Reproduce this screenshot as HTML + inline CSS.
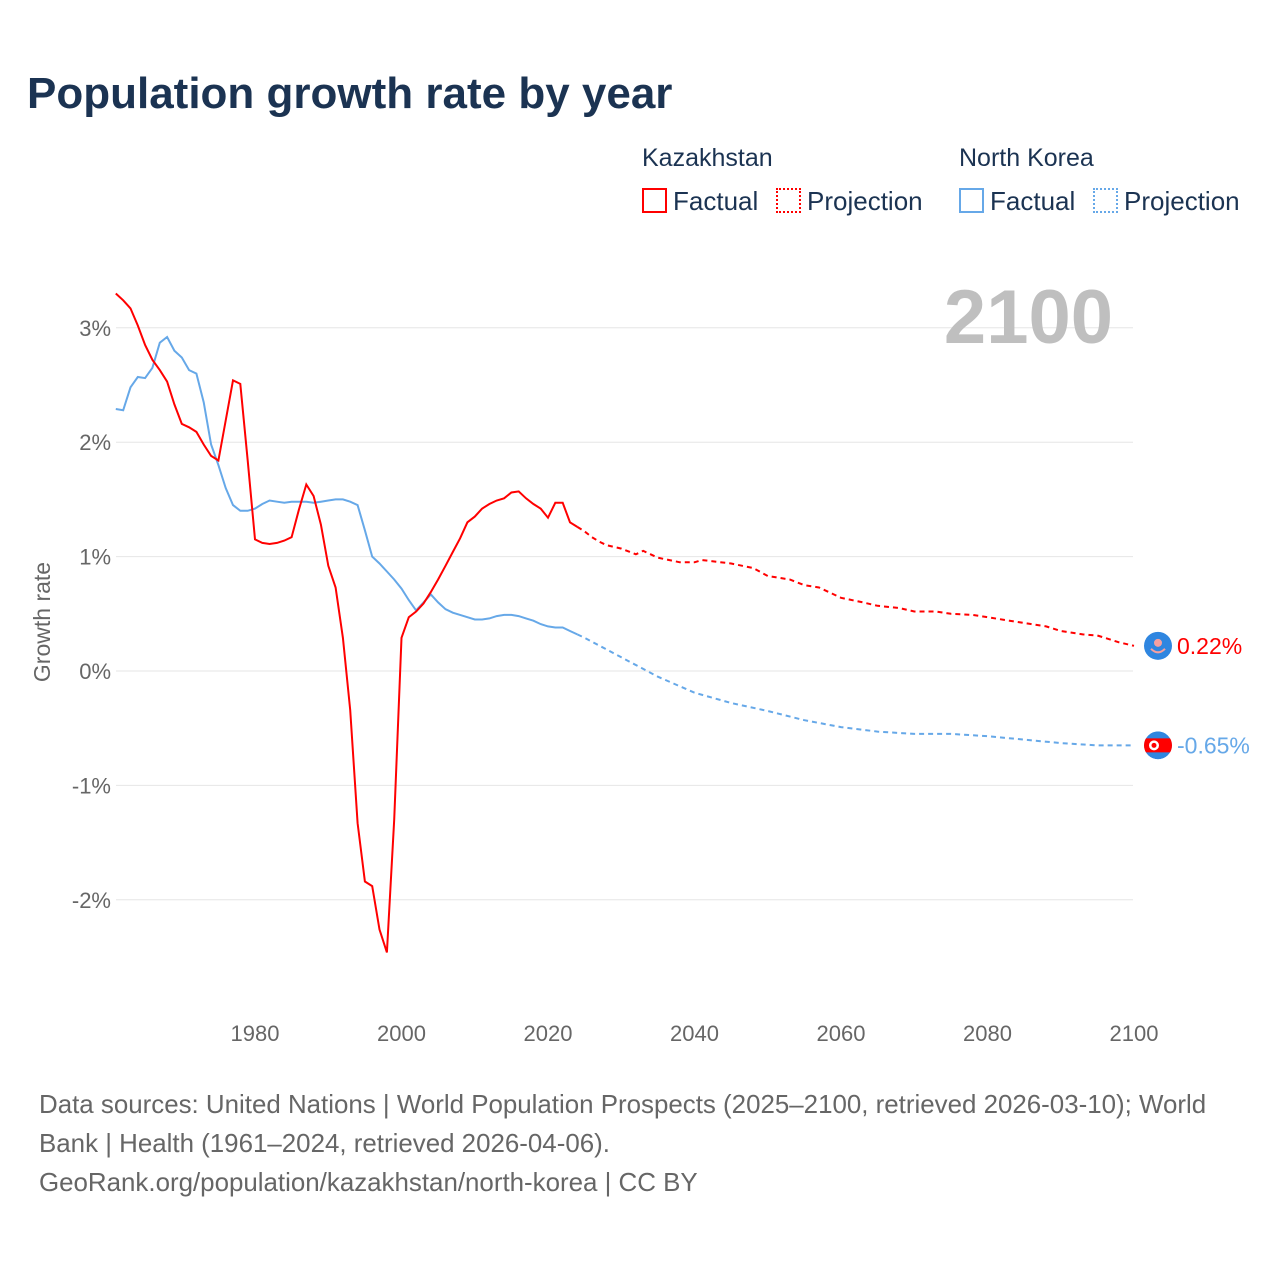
<!DOCTYPE html>
<html><head><meta charset="utf-8">
<style>
body{margin:0;background:#fff;font-family:"Liberation Sans",sans-serif;}
#wrap{position:relative;width:1280px;height:1280px;overflow:hidden;}
.t{position:absolute;white-space:nowrap;}
</style></head>
<body>
<div id="wrap">
<div class="t" style="left:27px;top:69px;font-size:44px;font-weight:bold;color:#1b3352;">Population growth rate by year</div>
<div class="t" style="left:642px;top:144px;font-size:25px;color:#1b3352;">Kazakhstan</div>
<div class="t" style="left:959px;top:144px;font-size:25px;color:#1b3352;">North Korea</div>
<div style="position:absolute;left:642px;top:188px;">
 <div style="position:absolute;left:0;top:0;width:21px;height:21px;border:2px solid #f00;"></div>
 <div class="t" style="left:31px;top:-2px;font-size:26px;color:#1b3352;">Factual</div></div>
<div style="position:absolute;left:776px;top:188px;">
 <div style="position:absolute;left:0;top:0;width:21px;height:21px;border:2px dotted #f00;"></div>
 <div class="t" style="left:31px;top:-2px;font-size:26px;color:#1b3352;">Projection</div></div>
<div style="position:absolute;left:959px;top:188px;">
 <div style="position:absolute;left:0;top:0;width:21px;height:21px;border:2px solid #66a8e8;"></div>
 <div class="t" style="left:31px;top:-2px;font-size:26px;color:#1b3352;">Factual</div></div>
<div style="position:absolute;left:1093px;top:188px;">
 <div style="position:absolute;left:0;top:0;width:21px;height:21px;border:2px dotted #66a8e8;"></div>
 <div class="t" style="left:31px;top:-2px;font-size:26px;color:#1b3352;">Projection</div></div>

<svg id="chart" width="1280" height="1280" style="position:absolute;left:0;top:0;"></svg>

<div class="t" style="left:39px;top:1086px;font-size:25.9px;line-height:39px;color:#666;">Data sources: United Nations | World Population Prospects (2025–2100, retrieved 2026-03-10); World<br>Bank | Health (1961–2024, retrieved 2026-04-06).<br>GeoRank.org/population/kazakhstan/north-korea | CC BY</div>
</div>
<script>
const yTicks=[3,2,1,0,-1,-2];
const yTickLabels=["3%","2%","1%","0%","-1%","-2%"];
const xTicks=[1980,2000,2020,2040,2060,2080,2100];
const kzFactStart=1961;
const kzFactual=[3.30,3.24,3.17,3.02,2.85,2.72,2.63,2.53,2.33,2.16,2.13,2.09,1.98,1.88,1.84,2.19,2.54,2.51,1.84,1.15,1.12,1.11,1.12,1.14,1.17,1.41,1.63,1.53,1.28,0.92,0.73,0.29,-0.34,-1.33,-1.84,-1.88,-2.26,-2.46,-1.30,0.29,0.47,0.52,0.59,0.69,0.80,0.92,1.04,1.16,1.30,1.35,1.42,1.46,1.49,1.51,1.56,1.57,1.51,1.46,1.42,1.34,1.47,1.47,1.30,1.26];
const kpFactual=[2.29,2.28,2.48,2.57,2.56,2.65,2.87,2.92,2.80,2.74,2.63,2.60,2.35,1.98,1.80,1.60,1.45,1.40,1.40,1.42,1.46,1.49,1.48,1.47,1.48,1.48,1.48,1.47,1.48,1.49,1.50,1.50,1.48,1.45,1.23,1.00,0.94,0.87,0.80,0.72,0.62,0.53,0.60,0.67,0.60,0.54,0.51,0.49,0.47,0.45,0.45,0.46,0.48,0.49,0.49,0.48,0.46,0.44,0.41,0.39,0.38,0.38,0.35,0.32];
const kzProjYears=[2024,2025,2026,2027,2028,2030,2032,2033,2035,2038,2040,2041,2045,2048,2050,2053,2055,2057,2060,2063,2065,2068,2070,2073,2075,2078,2080,2083,2085,2088,2090,2093,2095,2098,2100];
const kzProj=[1.26,1.22,1.17,1.13,1.10,1.07,1.02,1.05,0.99,0.95,0.95,0.97,0.94,0.90,0.83,0.80,0.75,0.73,0.64,0.60,0.57,0.55,0.52,0.52,0.50,0.49,0.47,0.44,0.42,0.39,0.35,0.32,0.31,0.25,0.22];
const kpProjYears=[2024,2025,2030,2035,2040,2045,2050,2055,2060,2065,2070,2075,2080,2085,2090,2095,2100];
const kpProj=[0.32,0.29,0.12,-0.05,-0.19,-0.28,-0.35,-0.43,-0.49,-0.53,-0.55,-0.55,-0.57,-0.60,-0.63,-0.65,-0.65];

const svg=document.getElementById('chart');
const NS='http://www.w3.org/2000/svg';
const X=yr=>255+(yr-1980)*7.325;
const Y=v=>671-v*114.4;
function mk(tag,attrs,parent){const e=document.createElementNS(NS,tag);for(const k in attrs)e.setAttribute(k,attrs[k]);(parent||svg).appendChild(e);return e;}

yTicks.forEach((v,i)=>{
 const g=mk('line',{x1:116,x2:1133,y1:Y(v),y2:Y(v),stroke:'#e6e6e6','stroke-width':1});
 
 
 const t=mk('text',{x:111,y:Y(v)+8,'text-anchor':'end','font-size':22,fill:'#666','font-family':'Liberation Sans, sans-serif'});
 t.textContent=yTickLabels[i];
 
 
});
xTicks.forEach(yr=>{
 const t=mk('text',{x:X(yr),y:1041,'text-anchor':'middle','font-size':22,fill:'#666','font-family':'Liberation Sans, sans-serif'});
 t.textContent=yr;
 
 
});
const yt=mk('text',{transform:'translate(50,622) rotate(-90)','text-anchor':'middle','font-size':23,fill:'#666','font-family':'Liberation Sans, sans-serif'});
yt.textContent='Growth rate';



const yearLbl=mk('text',{x:1113,y:343,'text-anchor':'end','font-size':76,'font-weight':'bold',fill:'#bfbfbf','font-family':'Liberation Sans, sans-serif'});
yearLbl.textContent='2100';



function pts(years,vals){return vals.map((v,i)=>X(years[i]).toFixed(1)+','+Y(v).toFixed(1)).join(' ');}
function seq(start,n){return Array.from({length:n},(_,i)=>start+i);}

const l1=mk('polyline',{points:pts(kzProjYears,kzProj),fill:'none',stroke:'#f00','stroke-width':2,'stroke-dasharray':'5,4'});


const l2=mk('polyline',{points:pts(kpProjYears,kpProj),fill:'none',stroke:'#66a8e8','stroke-width':2,'stroke-dasharray':'5,4'});


const l3=mk('polyline',{points:pts(seq(kzFactStart,kpFactual.length),kpFactual),fill:'none',stroke:'#66a8e8','stroke-width':2});


const l4=mk('polyline',{points:pts(seq(kzFactStart,kzFactual.length),kzFactual),fill:'none',stroke:'#f00','stroke-width':2});



const kzEnd=kzProj[kzProj.length-1], kpEnd=kpProj[kpProj.length-1];
const fx=1158;
const f1=mk('g',{});


mk('circle',{cx:fx,cy:Y(kzEnd),r:14,fill:'#2f86e0'},f1);
mk('circle',{cx:fx,cy:Y(kzEnd)-3,r:4,fill:'#f6a0a0'},f1);
mk('path',{d:`M${fx-7} ${Y(kzEnd)+3} Q${fx} ${Y(kzEnd)+10} ${fx+7} ${Y(kzEnd)+3}`,stroke:'#f6a0a0','stroke-width':2,fill:'none'},f1);
const t1=mk('text',{x:1177,y:Y(kzEnd)+8,'font-size':23,fill:'#f00','font-family':'Liberation Sans, sans-serif'});
t1.textContent=kzEnd.toFixed(2)+'%';



const cy2=Y(kpEnd);
const defs=mk('defs',{});
const cp=mk('clipPath',{id:'kpclip'},defs);
mk('circle',{cx:fx,cy:cy2,r:14},cp);
const f2=mk('g',{'clip-path':'url(#kpclip)'});


mk('circle',{cx:fx,cy:cy2,r:14,fill:'#2f86e0'},f2);
mk('rect',{x:fx-15,y:cy2-7,width:30,height:14,fill:'#f00'},f2);
mk('circle',{cx:fx-4,cy:cy2,r:5,fill:'#fff'},f2);
mk('circle',{cx:fx-4,cy:cy2,r:2.5,fill:'#f00'},f2);
const t2=mk('text',{x:1177,y:cy2+8,'font-size':23,fill:'#66a8e8','font-family':'Liberation Sans, sans-serif'});
t2.textContent=kpEnd.toFixed(2)+'%';


</script>
</body></html>
